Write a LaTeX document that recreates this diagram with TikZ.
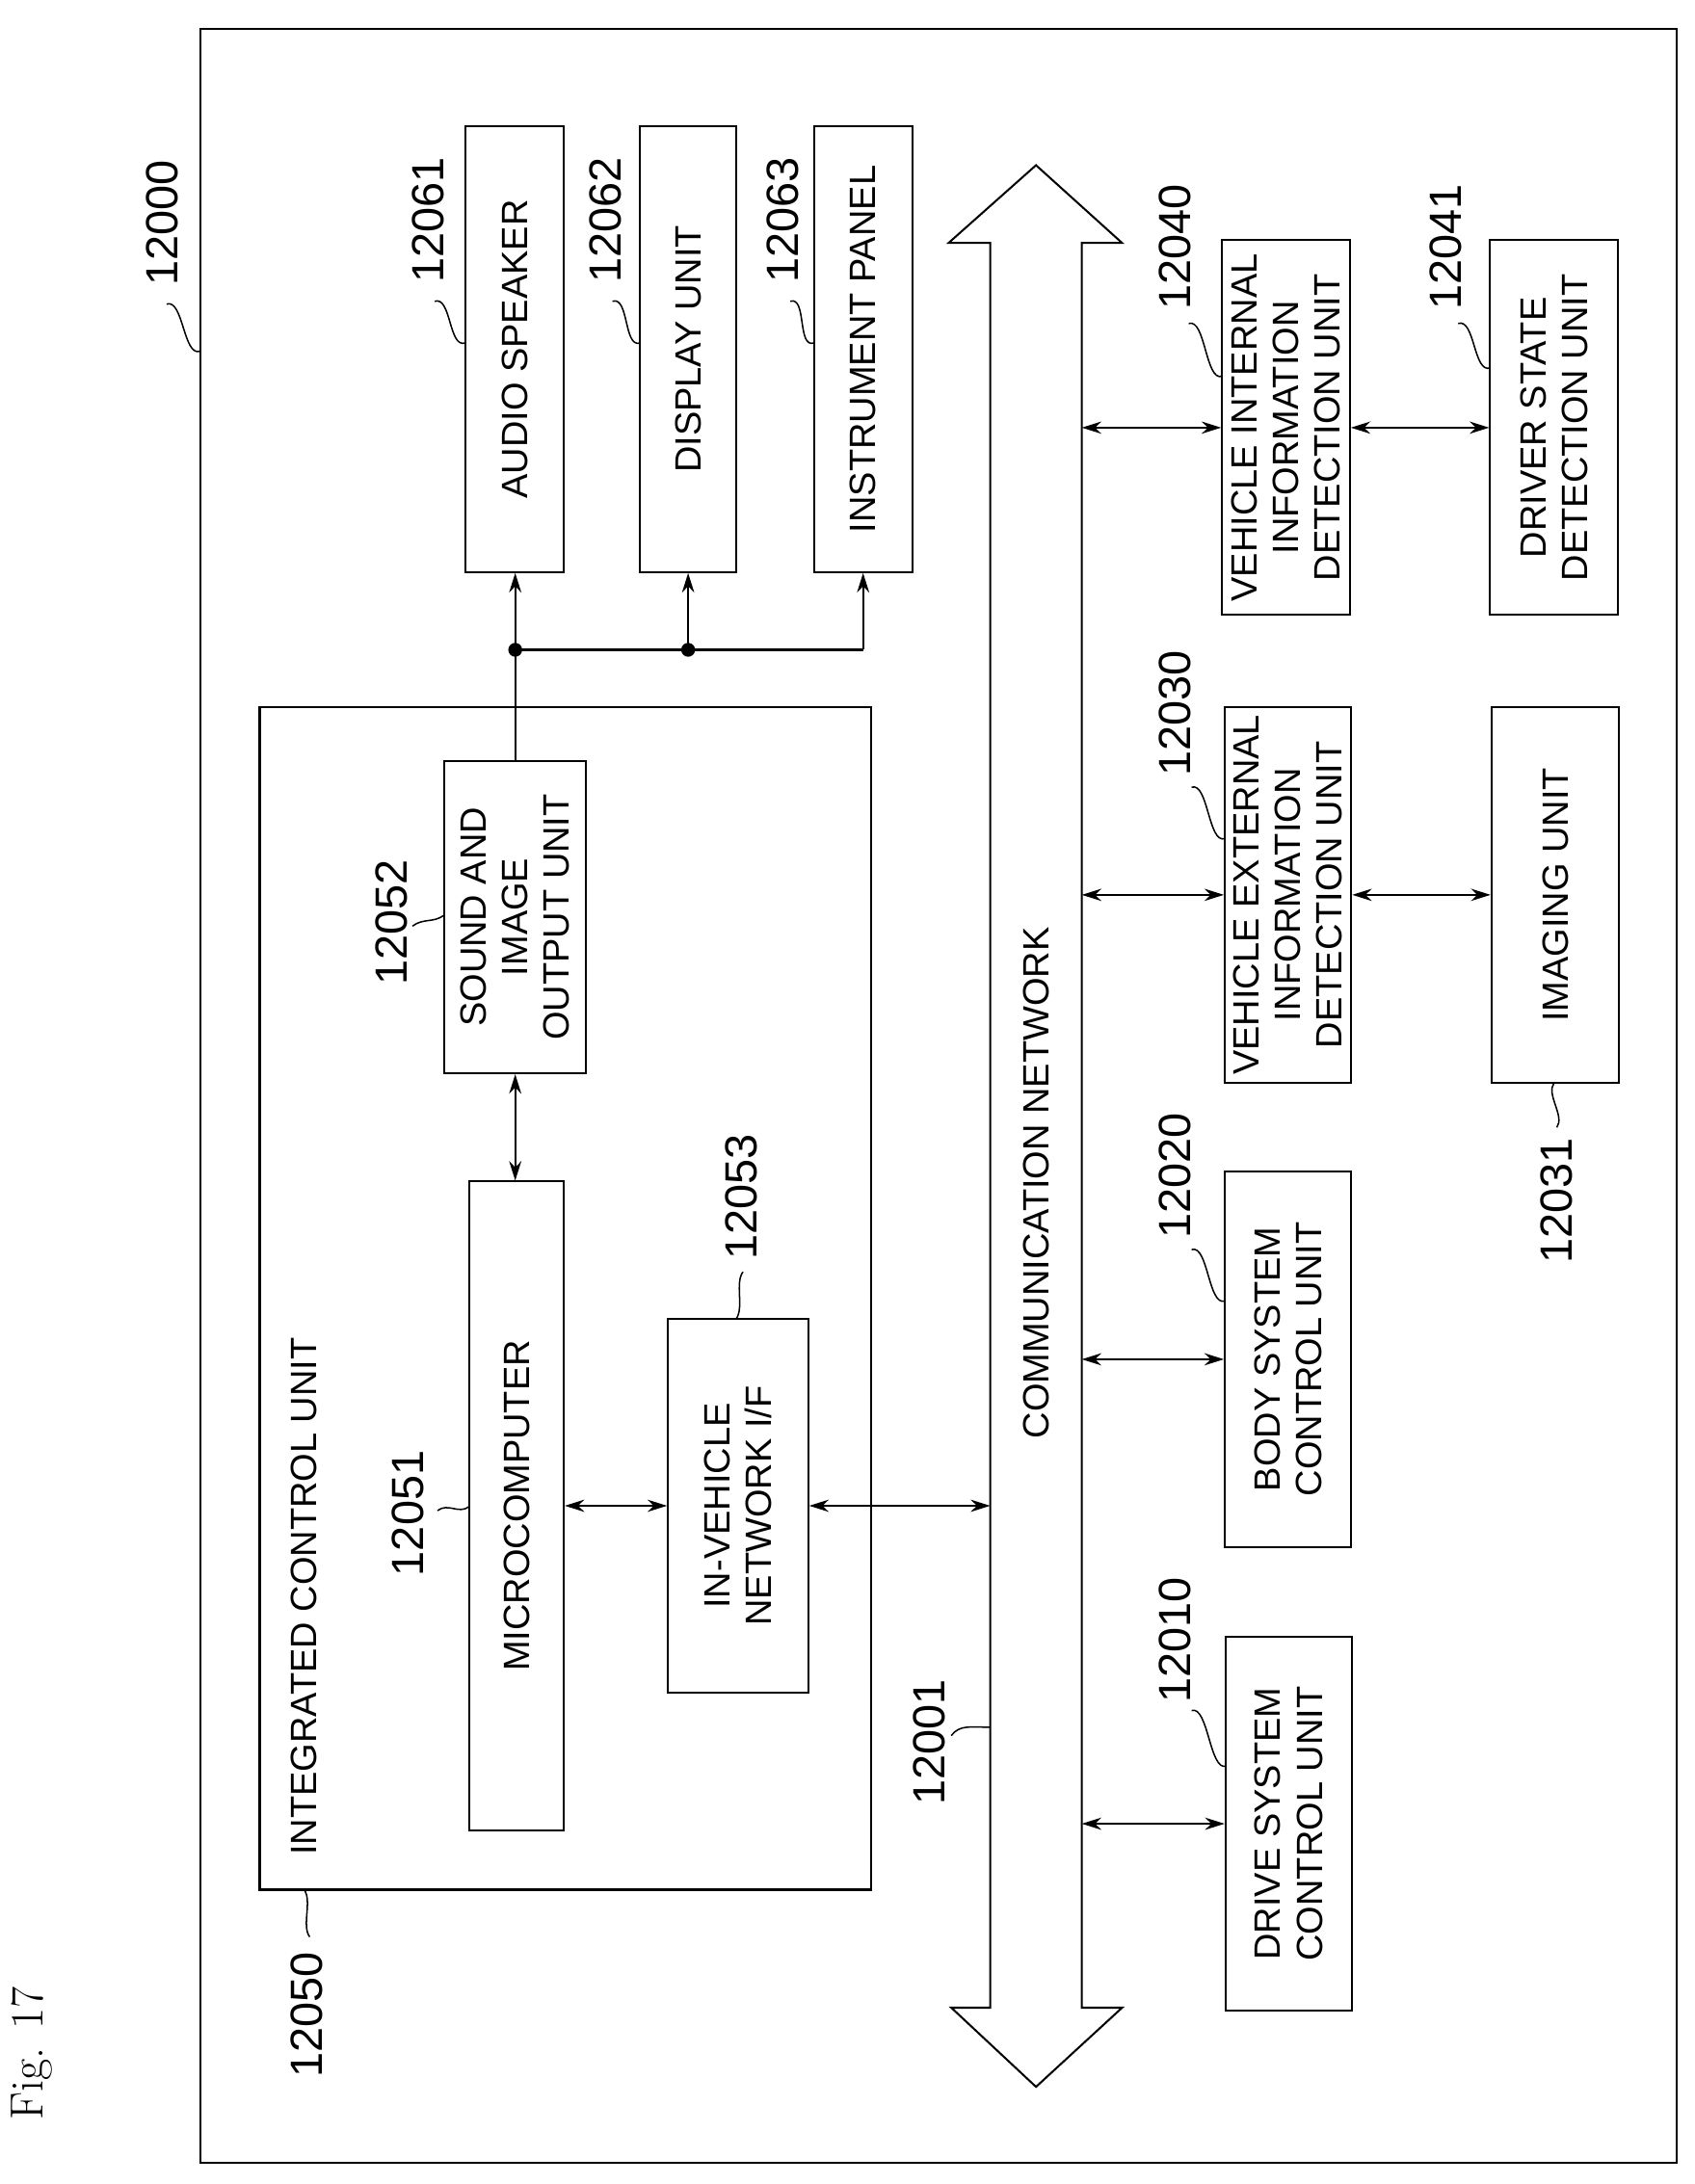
\documentclass[tikz,border=0pt]{standalone}
\usepackage{fontspec}
\setmainfont{Liberation Sans}
\newfontfamily\figfont{Latin Modern Roman}
\usetikzlibrary{arrows.meta}
\begin{document}
\begin{tikzpicture}[x=0.02cm,y=-0.02cm,line width=0.8pt,
  >={Stealth[length=8pt,width=5pt]},
  box/.style={draw,inner sep=0pt},
  txt/.style={rotate=90,align=center,font=\fontsize{15}{17}\selectfont,inner sep=0pt},
  lbl/.style={rotate=90,font=\fontsize{18.5}{20}\selectfont,inner sep=0pt},
  arr/.style={<->},
  lead/.style={line width=0.6pt}]
\newcommand\leadr[2]{\draw[lead] (#1) .. controls +(12,-4) and +(-12,4) .. (#2);}
\useasboundingbox (0,0) rectangle (1220,1573);
\node[rotate=90,font=\figfont\fontsize{19}{21}\selectfont] (fig) at (23,1479) {Fig. 17};
\node[box,minimum width=1063*0.02cm,minimum height=1537*0.02cm] (outer) at (675.5,789.5) {};
\node[box,minimum width=440*0.02cm,minimum height=852*0.02cm] (icu) at (407,935) {};
\node[txt,anchor=west] (icut) at (219,1337) {INTEGRATED CONTROL UNIT};
% inner boxes
\node[box,minimum width=68*0.02cm,minimum height=467*0.02cm] (micro) at (372,1084.5) {};
\node[txt] at (micro) {MICROCOMPUTER};
\node[box,minimum width=102*0.02cm,minimum height=225*0.02cm] (sound) at (371,660.5) {};
\node[txt] at (sound) {SOUND AND\\IMAGE\\OUTPUT UNIT};
\node[box,minimum width=101*0.02cm,minimum height=269*0.02cm] (ivn) at (531.5,1084.5) {};
\node[txt] at (ivn) {IN-VEHICLE\\NETWORK I/F};
\node[box,minimum width=71*0.02cm,minimum height=321*0.02cm] (audio) at (370.5,251.5) {};
\node[txt] at (audio) {AUDIO SPEAKER};
\node[box,minimum width=69*0.02cm,minimum height=321*0.02cm] (disp) at (495.5,251.5) {};
\node[txt] at (disp) {DISPLAY UNIT};
\node[box,minimum width=71*0.02cm,minimum height=321*0.02cm] (instr) at (621.5,251.5) {};
\node[txt] at (instr) {INSTRUMENT PANEL};
% right boxes
\node[box,minimum width=91*0.02cm,minimum height=269*0.02cm] (drive) at (928,1313.5) {};
\node[txt] at (drive) {DRIVE SYSTEM\\CONTROL UNIT};
\node[box,minimum width=91*0.02cm,minimum height=270*0.02cm] (body) at (927.5,979) {};
\node[txt] at (body) {BODY SYSTEM\\CONTROL UNIT};
\node[box,minimum width=91*0.02cm,minimum height=271*0.02cm] (ext) at (927.5,644.5) {};
\node[txt] at (ext) {VEHICLE EXTERNAL\\INFORMATION\\DETECTION UNIT};
\node[box,minimum width=92*0.02cm,minimum height=270*0.02cm] (int) at (926,308) {};
\node[txt] at (int) {VEHICLE INTERNAL\\INFORMATION\\DETECTION UNIT};
\node[box,minimum width=92*0.02cm,minimum height=270*0.02cm] (drv) at (1119,308) {};
\node[txt] at (drv) {DRIVER STATE\\DETECTION UNIT};
\node[box,minimum width=92*0.02cm,minimum height=271*0.02cm] (img) at (1120,644.5) {};
\node[txt] at (img) {IMAGING UNIT};
% bus
\draw (713,175) -- (683,175) -- (746,119) -- (808,175) -- (779,175) -- (779,1446)
  -- (808,1446) -- (746,1503) -- (685,1446) -- (713,1446) -- cycle;
\node[txt] (bust) at (746,852) {COMMUNICATION NETWORK};
\coordinate (busL) at (713,0);
\coordinate (busR) at (779,0);
% connectors
\coordinate (j1) at (371,468);
\coordinate (j2) at (495.5,468);
\coordinate (j3) at (621.5,468);
\draw (sound.north) -- (j1) -- (j3);
\draw[->] (j1) -- (j1 |- audio.south);
\draw[->] (j2) -- (disp.south);
\draw[->] (j3) -- (instr.south);
\fill (j1) circle (5);
\fill (j2) circle (5);
\draw[arr] (micro.north -| sound.south) -- (sound.south);
\draw[arr] (micro.east |- ivn.west) -- (ivn.west);
\draw[arr] (ivn.east) -- (ivn.east -| busL);
\draw[arr] (drive.west -| busR) -- (drive.west);
\draw[arr] (body.west -| busR) -- (body.west);
\draw[arr] (ext.west -| busR) -- (ext.west);
\draw[arr] (int.west -| busR) -- (int.west);
\draw[arr] (ext.east) -- (img.west);
\draw[arr] (int.east) -- (drv.west);
% reference labels
\node[lbl] (l12000) at (117,160.5) {12000};
\leadr{120,219}{144,253}
\node[lbl] (l12061) at (308,158.5) {12061};
\leadr{313,217}{335,247}
\node[lbl] (l12062) at (436,158.5) {12062};
\leadr{441,217}{461,247}
\node[lbl] (l12063) at (564,158.5) {12063};
\leadr{569,217}{586,247}
\node[lbl] (l12052) at (282,664.5) {12052};
\draw[lead] (297,667) .. controls +(8,-6) and +(-8,6) .. (320,659);
\node[lbl] (l12051) at (294,1090) {12051};
\draw[lead] (315,1088) .. controls +(8,-6) and +(-8,6) .. (338,1085);
\node[lbl] (l12053) at (534,862) {12053};
\draw[lead] (535,916) .. controls +(-6,8) and +(6,-8) .. (530,950);
\node[lbl] (l12050) at (221,1451) {12050};
\draw[lead] (223,1395) .. controls +(-6,-8) and +(6,8) .. (219,1361);
\node[lbl] (l12001) at (669,1255) {12001};
\draw[lead] (685,1250) .. controls +(6,-8) and +(-14,0) .. (713,1244);
\node[lbl] (l12010) at (846,1181) {12010};
\leadr{858,1232}{883,1272}
\node[lbl] (l12020) at (846,847) {12020};
\leadr{858,900}{882,937}
\node[lbl] (l12030) at (846,514) {12030};
\leadr{858,567}{882,604}
\node[lbl] (l12040) at (846,178) {12040};
\leadr{856,233}{880,271}
\node[lbl] (l12041) at (1041,178) {12041};
\leadr{1050,233}{1073,265}
\node[lbl] (l12031) at (1121,865) {12031};
\draw[lead] (1121,812) .. controls +(6,-8) and +(-6,8) .. (1119,780);
\end{tikzpicture}
\end{document}
